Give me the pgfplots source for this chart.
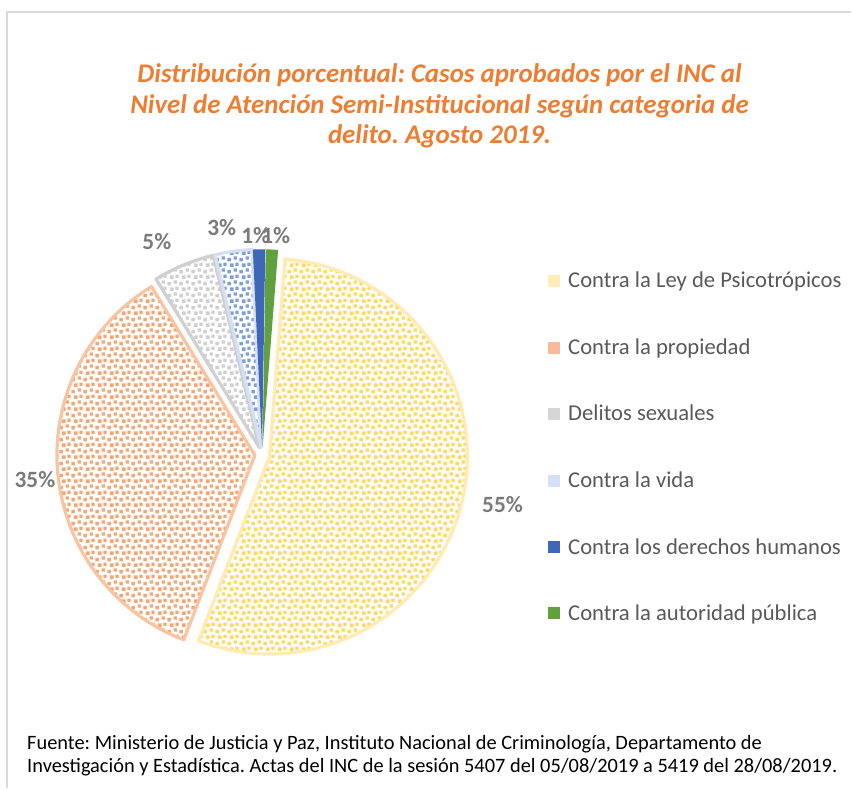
\documentclass[border=0pt]{standalone}
\usepackage{pgfplots}
\pgfplotsset{compat=1.18}
\usetikzlibrary{patterns}
\usepackage{fontspec}
\setmainfont{Carlito}
\frenchspacing

\definecolor{ttl}{HTML}{ED7D31}
\definecolor{lbl}{HTML}{7A7A7A}
\definecolor{lgd}{HTML}{595959}
\definecolor{frm}{HTML}{D9D9D9}
\definecolor{yDot}{HTML}{FFD966}
\definecolor{yLine}{HTML}{FFEBB3}
\definecolor{oDot}{HTML}{F4A674}
\definecolor{oLine}{HTML}{F8C4A2}
\definecolor{gDot}{HTML}{D0D0D0}
\definecolor{gLine}{HTML}{D0D0D0}
\definecolor{bDot}{HTML}{7F9FDB}
\definecolor{bLine}{HTML}{D6E0F5}
\definecolor{dBlue}{HTML}{3F67B8}
\definecolor{dGreen}{HTML}{60A03F}

\pgfdeclarepatternformonly{confetti}{\pgfqpoint{0pt}{0pt}}{\pgfqpoint{9pt}{9pt}}{\pgfqpoint{9pt}{9pt}}{%
  \pgfpathrectangle{\pgfqpoint{0.3pt}{0.4pt}}{\pgfqpoint{2.7pt}{2.7pt}}%
  \pgfpathrectangle{\pgfqpoint{4.9pt}{1.7pt}}{\pgfqpoint{2.6pt}{2.6pt}}%
  \pgfpathrectangle{\pgfqpoint{2.2pt}{5.2pt}}{\pgfqpoint{2.7pt}{2.7pt}}%
  \pgfpathrectangle{\pgfqpoint{6.3pt}{6.1pt}}{\pgfqpoint{2.5pt}{2.5pt}}%
  \pgfusepath{fill}}

% #1 cumulated percent before the slice, #2 percent of the slice
\newcommand\slice[4]{%
  \draw[shift={({85.5-3.6*(#1+0.5*#2)}:5.6pt)}, line width=2.4pt, line join=round,
        draw=#4, pattern=confetti, pattern color=#3]
    (axis cs:262.5,334) -- ++({85.5-3.6*#1}:148.5pt)
    arc[start angle={85.5-3.6*#1}, end angle={85.5-3.6*(#1+#2)}, radius=148.5pt] -- cycle;}
\newcommand\solidslice[3]{%
  \fill[shift={({85.5-3.6*(#1+0.5*#2)}:5.6pt)}, #3]
    (axis cs:262.5,334) -- ++({85.5-3.6*#1}:148.5pt)
    arc[start angle={85.5-3.6*#1}, end angle={85.5-3.6*(#1+#2)}, radius=148.5pt] -- cycle;}
% legend row: #1 y of the row centre (axis units), #2 marker colour, #3 text
\newcommand\lgdrow[3]{%
  \fill[#2] (axis cs:549,#1-6) rectangle (axis cs:561,#1+6);
  \node[anchor=base west, inner sep=0pt, text=lgd, font=\fontsize{17}{20}\selectfont]
    at (axis cs:568.5,#1-7) {#3};}

\begin{document}
\begin{tikzpicture}
\begin{axis}[
  x=0.75pt, y=0.75pt,
  xmin=0, xmax=852, ymin=0, ymax=789,
  hide axis, clip=false,
]
\path (axis cs:0,0) rectangle (axis cs:852,789);
\draw[frm, line width=1.2pt] (axis cs:7,0) -- (axis cs:7,777) -- (axis cs:852,777);

% percentages of the six categories
\slice{0}{54.6}{yDot}{yLine}
\slice{54.6}{35.4}{oDot}{oLine}
\slice{90.0}{5.0}{gDot}{gLine}
\slice{95.0}{3.0}{bDot}{bLine}
\solidslice{98.0}{1.0}{dBlue}
\solidslice{99.0}{1.0}{dGreen}

\lgdrow{508}{yDot!45}{Contra la Ley de Psicotrópicos}
\lgdrow{441}{oDot!75}{Contra la propiedad}
\lgdrow{375}{gDot!90}{Delitos sexuales}
\lgdrow{308}{bLine}{Contra la vida}
\lgdrow{241}{dBlue}{Contra los derechos humanos}
\lgdrow{175}{dGreen}{Contra la autoridad pública}

\begin{scope}[every node/.style={font=\fontsize{17.5}{20}\selectfont\bfseries, text=lbl}]
\node at (axis cs:503,284) {55\%};
\node at (axis cs:35,309) {35\%};
\node at (axis cs:157,547) {5\%};
\node at (axis cs:222,561) {3\%};
\node at (axis cs:256,553) {1\%};
\node at (axis cs:276,553) {1\%};
\end{scope}

\node[align=center, text=ttl, font=\fontsize{20.2}{23.2}\selectfont\bfseries\itshape]
  at (axis cs:440,683) {Distribución porcentual: Casos aprobados por el INC al\\
  Nivel de Atención Semi-Institucional según categoria de\\ delito. Agosto 2019.};

\node[anchor=west, align=left, inner sep=0pt, font=\fontsize{15.3}{17.5}\selectfont]
  at (axis cs:27,32.5) {Fuente: Ministerio de Justicia y Paz, Instituto Nacional de Criminología, Departamento de\\
  Investigación y Estadística. Actas del INC de la sesión 5407 del 05/08/2019 a 5419 del 28/08/2019.};
\end{axis}
\end{tikzpicture}
\end{document}
